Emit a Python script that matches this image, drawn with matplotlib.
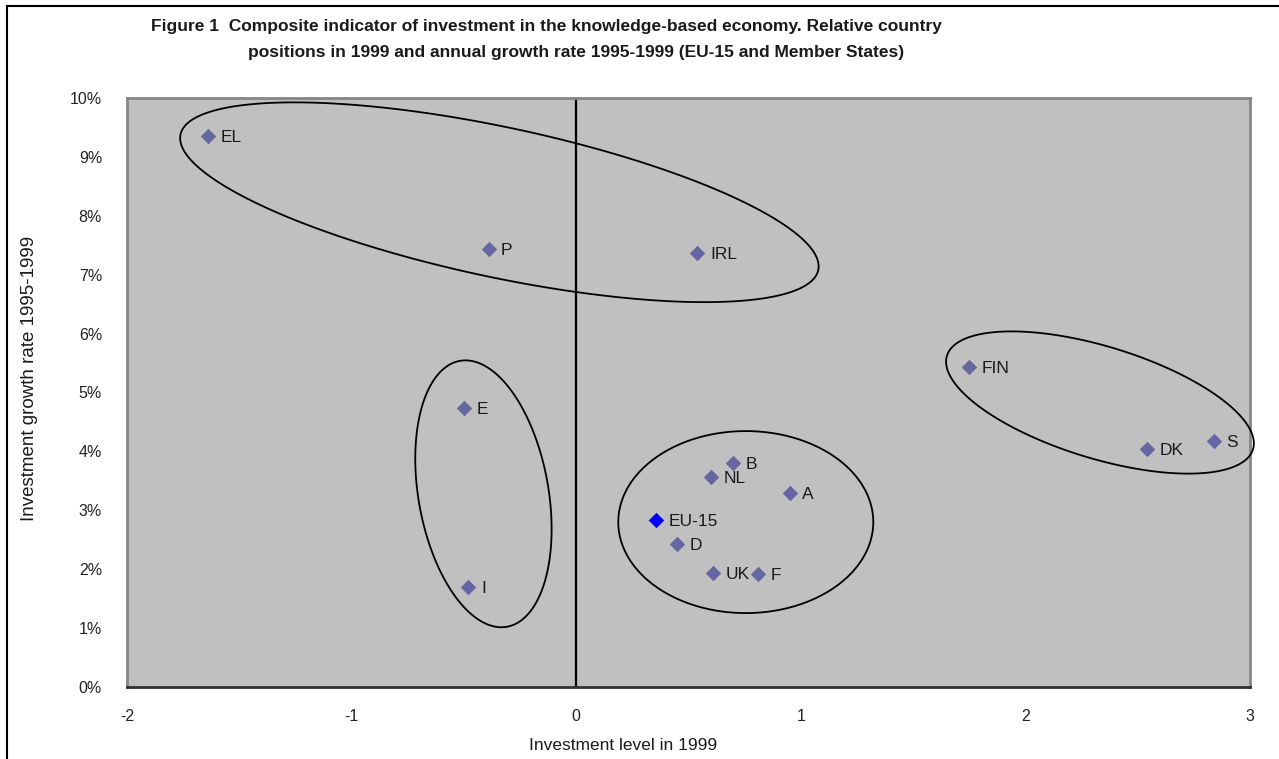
from matplotlib import pyplot as plt
from matplotlib.lines import Line2D
from matplotlib.patches import Polygon
import numpy as np

plt.rcParams["font.family"] = ["Liberation Sans", "DejaVu Sans"]
plt.rcParams["axes.unicode_minus"] = False

# country positions: investment level 1999 vs growth rate 1995-1999 (%)
countries = ["EL", "P", "IRL", "E", "I", "FIN", "DK", "S",
             "B", "NL", "A", "D", "UK", "F"]
level = [-1.64, -0.39, 0.54, -0.50, -0.48, 1.75, 2.54, 2.84,
         0.70, 0.60, 0.95, 0.45, 0.61, 0.81]
growth = [9.35, 7.44, 7.37, 4.74, 1.70, 5.43, 4.04, 4.18,
          3.80, 3.57, 3.29, 2.43, 1.94, 1.92]

eu_label = "EU-15"
eu_level = 0.356
eu_growth = 2.84

# grouping ellipses: centre (data), semi-axes (px), angle (deg)
groups_centre = [(-0.342, 8.23), (-0.413, 3.28), (0.755, 2.80), (2.332, 4.83)]
groups_axes = [(326, 75), (135, 65), (127.5, 91), (160, 56)]
groups_angle = [-12, 100, 0, -17]

W, H = 1279, 759
fig = plt.figure(figsize=(W / 100, H / 100), dpi=100)
ax = fig.add_axes([127 / W, 1 - 687 / H, (1250 - 127) / W, (687 - 98) / H])

ax.set_facecolor("#c0c0c0")
ax.set_xlim(-2, 3)
ax.set_ylim(0, 10)
ax.set_xticks(range(-2, 4))
ax.set_yticks(range(0, 11))
ax.set_yticklabels(["%d%%" % v for v in range(0, 11)])
ax.tick_params(length=0, labelsize=11.5, colors="#222222")
ax.tick_params(axis="x", pad=16)
ax.tick_params(axis="y", pad=18)
for side in ["top", "right", "left"]:
    ax.spines[side].set_color("#858585")
    ax.spines[side].set_linewidth(2)
ax.spines["bottom"].set_color("#303030")
ax.spines["bottom"].set_linewidth(2)

ax.axvline(0, color="black", lw=1.6, zorder=2)

ax.scatter(level, growth, marker="D", s=62, color="#6666a3", zorder=4,
           linewidths=0)
ax.scatter([eu_level], [eu_growth], marker="D", s=62, color="#0000ff",
           zorder=4, linewidths=0)
for name, xv, yv in zip(countries + [eu_label], level + [eu_level],
                        growth + [eu_growth]):
    ax.annotate(name, (xv, yv), xytext=(9, -1), textcoords="offset points",
                va="center", ha="left", fontsize=12.5, color="#1a1a1a",
                zorder=5)

# ellipses drawn in pixel space so they keep their shape
t = np.linspace(0, 2 * np.pi, 300, endpoint=False)
for (cx, cy), (a, b), ang in zip(groups_centre, groups_axes, groups_angle):
    px, py = ax.transData.transform((cx, cy))
    th = np.deg2rad(ang)
    ex = px + a * np.cos(t) * np.cos(th) - b * np.sin(t) * np.sin(th)
    ey = py + a * np.cos(t) * np.sin(th) + b * np.sin(t) * np.cos(th)
    pts = ax.transData.inverted().transform(np.column_stack([ex, ey]))
    ax.add_patch(Polygon(pts, closed=True, fill=False, edgecolor="black",
                         lw=1.3, zorder=3, clip_on=False))

# outer frame (top and left edges)
fig.add_artist(Line2D([7 / W, 1], [1 - 6 / H, 1 - 6 / H], color="black", lw=1.5))
fig.add_artist(Line2D([7 / W, 7 / W], [0, 1 - 6 / H], color="black", lw=1.5))

fig.text(546 / W, 1 - 27 / H,
         "Figure 1  Composite indicator of investment in the knowledge-based economy. Relative country",
         ha="center", va="center", fontsize=12.5, fontweight="bold", color="#1a1a1a")
fig.text(576 / W, 1 - 52 / H,
         "positions in 1999 and annual growth rate 1995-1999 (EU-15 and Member States)",
         ha="center", va="center", fontsize=12.5, fontweight="bold", color="#1a1a1a")

fig.text(623 / W, 1 - 745 / H, "Investment level in 1999", ha="center",
         va="center", fontsize=12.5, color="#1a1a1a")
fig.text(30 / W, 1 - 378 / H, "Investment growth rate 1995-1999", ha="center",
         va="center", rotation=90, fontsize=13.5, color="#1a1a1a")

fig.savefig("out.png", dpi=100, facecolor="white")
